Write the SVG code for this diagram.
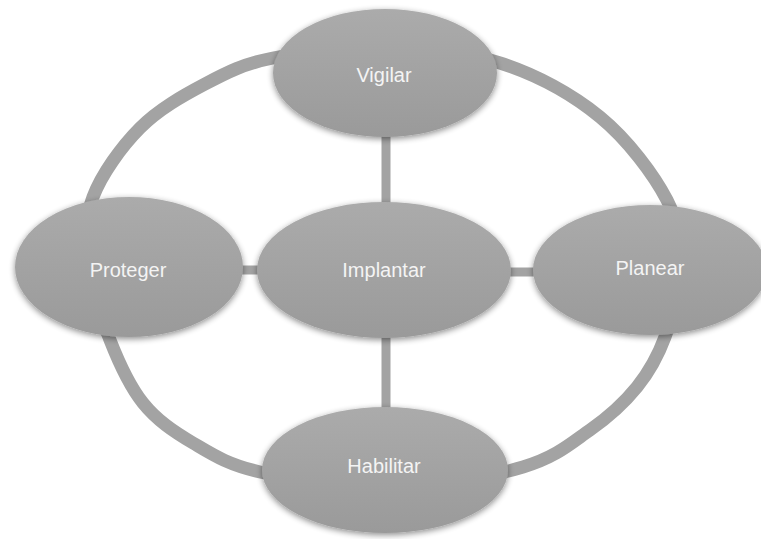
<svg xmlns="http://www.w3.org/2000/svg" width="761" height="539" viewBox="0 0 761 539">
  <defs>
    <linearGradient id="nodeFill" x1="0" y1="0" x2="0" y2="1">
      <stop offset="0" stop-color="#ababab"/>
      <stop offset="1" stop-color="#9a9a9a"/>
    </linearGradient>
    <filter id="soft" x="-20%" y="-20%" width="140%" height="150%">
      <feGaussianBlur in="SourceAlpha" stdDeviation="3"/>
      <feOffset dx="0" dy="2" result="b"/>
      <feComponentTransfer in="b" result="s">
        <feFuncA type="linear" slope="0.45"/>
      </feComponentTransfer>
      <feMerge>
        <feMergeNode in="s"/>
        <feMergeNode in="SourceGraphic"/>
      </feMerge>
    </filter>
  </defs>
  <style>
    .ring { fill: none; stroke: #a3a3a3; stroke-width: 13; }
    .link { stroke: #a3a3a3; stroke-width: 9; fill: none; }
    .node { fill: url(#nodeFill); filter: url(#soft); }
    .label { font-family: "Liberation Sans", Arial, sans-serif; font-size: 20px; fill: #f4f4f4; text-anchor: middle; }
  </style>
  <rect width="761" height="539" fill="#ffffff"/>
  <g id="connectors">
    <path class="ring" d="M385,48 C422.8,48.8 464.2,51.5 500,63 C535.8,74.5 572.2,94.2 600,117 C627.8,139.8 653.7,174.5 667,200 C680.3,225.5 680.3,247.2 680,270 C679.7,292.8 672.2,317.5 665,337 C657.8,356.5 649.5,371.5 637,387 C624.5,402.5 609,416.7 590,430 C571,443.3 556.3,457 523,467 C489.7,477 433.8,487.2 390,488 C346.2,488.8 292.8,479.5 260,472 C227.2,464.5 212.5,454.5 193,443 C173.5,431.5 156.8,420.2 143,403 C129.2,385.8 119.2,363.5 110,340 C100.8,316.5 90.8,288.8 88,265 C85.2,241.2 84.3,219.8 93,197 C101.7,174.2 121.3,146.8 140,128 C158.7,109.2 182.8,95.7 205,84 C227.2,72.3 243,64 273,58 C303,52 347.2,47.2 385,48 Z"/>
    <line class="link" x1="386" y1="134" x2="386" y2="206"/>
    <line class="link" x1="386" y1="334" x2="386" y2="410"/>
    <line class="link" x1="238" y1="270" x2="262" y2="270"/>
    <line class="link" x1="506" y1="272" x2="538" y2="272"/>
  </g>
  <g id="vigilar">
    <ellipse class="node" cx="385" cy="73" rx="112" ry="64"/>
    <text class="label" x="384" y="82">Vigilar</text>
  </g>
  <g id="implantar">
    <ellipse class="node" cx="384" cy="270" rx="127" ry="68"/>
    <text class="label" x="384" y="277">Implantar</text>
  </g>
  <g id="proteger">
    <ellipse class="node" cx="129" cy="267" rx="114" ry="70"/>
    <text class="label" x="128" y="277">Proteger</text>
  </g>
  <g id="planear">
    <ellipse class="node" cx="650" cy="270" rx="117" ry="65"/>
    <text class="label" x="650" y="275">Planear</text>
  </g>
  <g id="habilitar">
    <ellipse class="node" cx="385" cy="470" rx="123" ry="63"/>
    <text class="label" x="384" y="473">Habilitar</text>
  </g>
</svg>
